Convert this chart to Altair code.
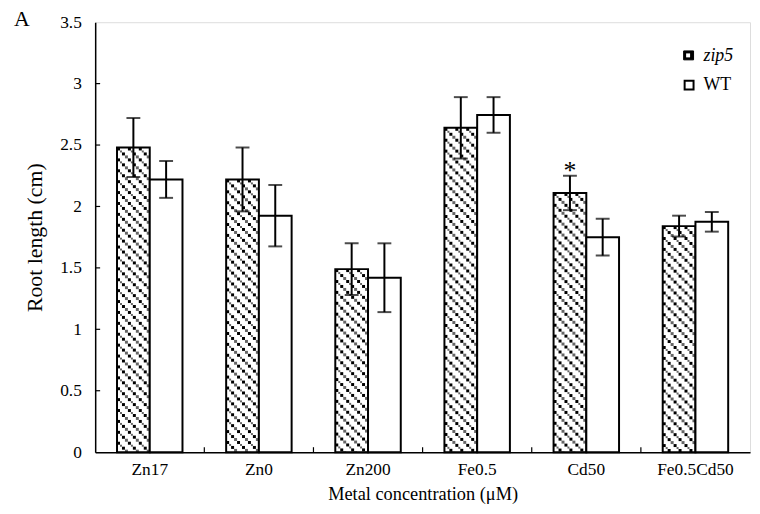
import base64
import altair as alt
import pandas as pd

categories = ["Zn17", "Zn0", "Zn200", "Fe0.5", "Cd50", "Fe0.5Cd50"]
groups = ["zip5", "WT"]
zip5_mean = [2.48, 2.22, 1.49, 2.64, 2.11, 1.84]
zip5_err = [0.24, 0.26, 0.21, 0.25, 0.14, 0.085]
wt_mean = [2.22, 1.925, 1.42, 2.745, 1.75, 1.875]
wt_err = [0.15, 0.25, 0.28, 0.145, 0.15, 0.08]
zip5_marks = ["", "", "", "", "*", ""]
y_ticks = [0, 0.5, 1, 1.5, 2, 2.5, 3, 3.5]
panel_label = "A"
x_title = "Metal concentration (μM)"
y_title = "Root length (cm)"

FONT = "Liberation Serif"
W, H = 661, 434

hatch_svg = (
    '<svg xmlns="http://www.w3.org/2000/svg" shape-rendering="crispEdges">'
    '<defs><pattern id="h" width="11" height="11" patternUnits="userSpaceOnUse">'
    '<rect x="0" y="0" width="3" height="3" fill="#000"/>'
    '<rect x="3" y="3" width="2" height="2" fill="#666"/>'
    '<rect x="5" y="5" width="3" height="3" fill="#000"/>'
    '<rect x="8" y="8" width="3" height="3" fill="#666"/>'
    '</pattern></defs>'
    '<rect width="100%" height="100%" fill="#fff"/>'
    '<rect width="100%" height="100%" fill="url(#h)"/></svg>'
)
hatch_url = "data:image/svg+xml;base64," + base64.b64encode(hatch_svg.encode()).decode()

rows = []
for i, c in enumerate(categories):
    rows.append(dict(cat=c, grp="zip5", mean=zip5_mean[i], lo=zip5_mean[i] - zip5_err[i],
                     hi=zip5_mean[i] + zip5_err[i], mark=zip5_marks[i], url=hatch_url))
    rows.append(dict(cat=c, grp="WT", mean=wt_mean[i], lo=wt_mean[i] - wt_err[i],
                     hi=wt_mean[i] + wt_err[i], mark="", url=hatch_url))
df = pd.DataFrame(rows)

xscale = alt.Scale(domain=categories, paddingInner=0, paddingOuter=0)
yscale = alt.Scale(domain=[0, 3.5], nice=False, zero=True)
xaxis = alt.Axis(title=x_title, labelAngle=0, ticks=False, tickSize=0, labelPadding=9,
                 labelFont=FONT, labelFontSize=17.5, labelColor="black",
                 titleFont=FONT, titleFontSize=18.5, titleFontWeight="normal", titleColor="black",
                 titlePadding=6, domainColor="black", domainWidth=1.5, grid=False)
yaxis = alt.Axis(title=y_title, values=y_ticks, format=".1~f", ticks=False, tickSize=0,
                 labelPadding=14, labelFont=FONT, labelFontSize=17.5, labelColor="black",
                 titleFont=FONT, titleFontSize=22, titleFontWeight="normal", titleColor="black",
                 titlePadding=13, domainColor="black", domainWidth=1.5, grid=False)


def xenc(**kw):
    return alt.X("cat:N", scale=xscale, axis=xaxis, sort=categories, **kw)


def yenc(field):
    return alt.Y(field, scale=yscale, axis=yaxis)


xoff = alt.XOffset("grp:N", sort=groups,
                   scale=alt.Scale(domain=groups, paddingInner=0, paddingOuter=0.667))

base = alt.Chart(df)

hatch = base.transform_filter(alt.datum.grp == "zip5").mark_image(aspect=False).encode(
    x=xenc(), xOffset=xoff, y=yenc("mean:Q"), y2=alt.datum(0), url=alt.Url("url:N")
)

bars = base.mark_bar(stroke="black", strokeWidth=2).encode(
    x=xenc(), xOffset=xoff, y=yenc("mean:Q"),
    fill=alt.Fill("grp:N", scale=alt.Scale(domain=groups, range=["rgba(0,0,0,0)", "#ffffff"]),
                  legend=None),
)

err = base.mark_rule(color="black", strokeWidth=2).encode(
    x=xenc(), xOffset=xoff, y=yenc("lo:Q"), y2="hi:Q"
)
cap_lo = base.mark_tick(color="black", size=14, thickness=2).encode(
    x=xenc(), xOffset=xoff, y=yenc("lo:Q")
)
cap_hi = base.mark_tick(color="black", size=14, thickness=2).encode(
    x=xenc(), xOffset=xoff, y=yenc("hi:Q")
)
stars = base.transform_filter(alt.datum.mark != "").mark_text(
    font=FONT, fontSize=26, baseline="alphabetic", align="center", dy=3, fill="black"
).encode(x=xenc(), xOffset=xoff, y=yenc("hi:Q"), text="mark:N")

ytick_df = pd.DataFrame({"v": y_ticks[1:-1]})
yticks = alt.Chart(ytick_df).mark_rule(color="black", strokeWidth=1.2).encode(
    y=yenc("v:Q"), x=alt.value(0), x2=alt.value(5)
)
xtick_df = pd.DataFrame({"cat": categories[1:]})
xticks = alt.Chart(xtick_df).mark_rule(color="black", strokeWidth=1.2).encode(
    x=xenc(bandPosition=0), y=alt.value(H), y2=alt.value(H - 5)
)

one = pd.DataFrame({"k": [0]})
label_a = alt.Chart(one).mark_text(font=FONT, fontSize=22, align="center", baseline="middle",
                                   fill="black", text=panel_label).encode(
    x=alt.value(-74), y=alt.value(-3))

leg_box1 = alt.Chart(one).mark_rect(fill="black", stroke="black", strokeWidth=1).encode(
    x=alt.value(594), x2=alt.value(604), y=alt.value(29), y2=alt.value(38))
leg_inner1 = alt.Chart(one).mark_rect(fill="white").encode(
    x=alt.value(596.5), x2=alt.value(600.5), y=alt.value(31.5), y2=alt.value(35.5))
leg_box2 = alt.Chart(one).mark_rect(fill="white", stroke="black", strokeWidth=2).encode(
    x=alt.value(595), x2=alt.value(604), y=alt.value(59), y2=alt.value(68))
leg_t1 = alt.Chart(one).mark_text(font=FONT, fontSize=18, fontStyle="italic", align="left",
                                  baseline="middle", fill="black", text=groups[0]).encode(
    x=alt.value(614), y=alt.value(34))
leg_t2 = alt.Chart(one).mark_text(font=FONT, fontSize=18, align="left",
                                  baseline="middle", fill="black", text=groups[1]).encode(
    x=alt.value(614), y=alt.value(63))

chart = alt.layer(
    hatch, bars, err, cap_lo, cap_hi, stars, yticks, xticks, label_a,
    leg_box1, leg_inner1, leg_box2, leg_t1, leg_t2
).properties(
    width=W, height=H,
    autosize=alt.AutoSizeParams(type="none"),
    padding={"left": 88, "top": 12, "right": 2, "bottom": 50},
).configure_view(stroke="black", strokeWidth=1.5).configure(background="white")

chart.save("out.html", embed_options={"renderer": "svg", "actions": False})
